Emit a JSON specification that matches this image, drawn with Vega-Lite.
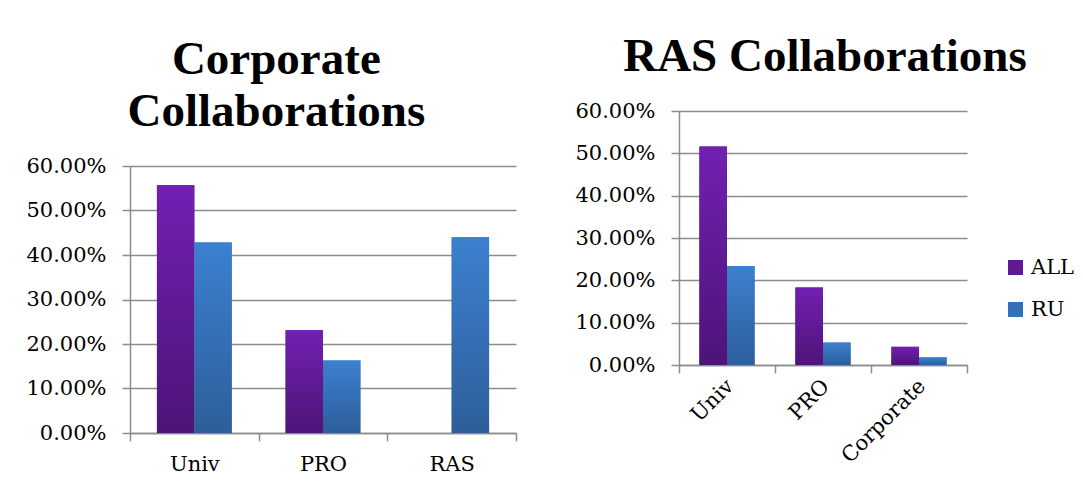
{
  "$schema": "https://vega.github.io/schema/vega-lite/v6.json",
  "padding": {"left": 25, "top": 33, "right": 0, "bottom": 0},
  "background": "white",
  "config": {
    "font": "DejaVu Serif",
    "view": {"stroke": null},
    "axis": {
      "labelFont": "DejaVu Serif", "labelFontSize": 21, "labelColor": "#000000",
      "domainColor": "#8c8c8c", "tickColor": "#8c8c8c", "gridColor": "#8c8c8c",
      "domainWidth": 1.5, "tickWidth": 1.5, "gridWidth": 1.5, "tickSize": 8, "title": null
    },
    "title": {"font": "Liberation Serif", "fontSize": 47, "fontWeight": "bold", "color": "#000000", "anchor": "middle", "frame": "bounds", "lineHeight": 52},
    "legend": {"labelFont": "DejaVu Serif", "labelFontSize": 21, "labelColor": "#000000", "symbolType": "square", "symbolSize": 225, "symbolStrokeWidth": 0, "symbolOpacity": 1, "rowPadding": 20, "labelOffset": 5, "title": null}
  },
  "datasets": {
    "corporate": [
      {"partner": "Univ", "group": "ALL", "share": 0.557},
      {"partner": "Univ", "group": "RU", "share": 0.428},
      {"partner": "PRO", "group": "ALL", "share": 0.231},
      {"partner": "PRO", "group": "RU", "share": 0.163},
      {"partner": "RAS", "group": "ALL", "share": 0.0},
      {"partner": "RAS", "group": "RU", "share": 0.440}
    ],
    "ras": [
      {"partner": "Univ", "group": "ALL", "share": 0.516},
      {"partner": "Univ", "group": "RU", "share": 0.234},
      {"partner": "PRO", "group": "ALL", "share": 0.183},
      {"partner": "PRO", "group": "RU", "share": 0.053},
      {"partner": "Corporate", "group": "ALL", "share": 0.043},
      {"partner": "Corporate", "group": "RU", "share": 0.018}
    ]
  },
  "spacing": 57,
  "resolve": {"scale": {"color": "independent", "xOffset": "independent"}, "legend": {"color": "independent"}},
  "hconcat": [
    {
      "width": 386,
      "height": 267,
      "title": {"text": ["Corporate", "Collaborations"], "offset": 19, "dx": 5},
      "data": {"name": "corporate"},
      "encoding": {
        "x": {"field": "partner", "type": "nominal", "sort": ["Univ", "PRO", "RAS"],
          "scale": {"paddingInner": 0, "paddingOuter": 0},
          "axis": {"labelAngle": 0, "tickBand": "extent", "labelPadding": 12, "grid": false}},
        "xOffset": {"field": "group", "type": "nominal", "sort": ["ALL", "RU"], "scale": {"domain": ["ALL", "RU"], "paddingOuter": 0.72, "paddingInner": 0}},
        "y": {"field": "share", "type": "quantitative", "scale": {"domain": [0, 0.6]},
          "axis": {"format": ".2%", "values": [0, 0.1, 0.2, 0.3, 0.4, 0.5, 0.6], "grid": true, "labelPadding": 16}}
      },
      "layer": [
        {
          "mark": {"type": "bar"},
          "encoding": {
            "color": {"field": "group", "type": "nominal",
              "scale": {"domain": ["ALL", "RU"], "range": ["#5F1A93", "#3470B8"]}, "legend": null}
          }
        },
        {
          "transform": [{"filter": "datum.group === 'ALL'"}],
          "mark": {"type": "bar", "color": {"gradient": "linear", "x1": 0, "y1": 0, "x2": 0, "y2": 1, "stops": [{"offset": 0, "color": "#7120B2"}, {"offset": 1, "color": "#4E1477"}]}}
        },
        {
          "transform": [{"filter": "datum.group === 'RU'"}],
          "mark": {"type": "bar", "color": {"gradient": "linear", "x1": 0, "y1": 0, "x2": 0, "y2": 1, "stops": [{"offset": 0, "color": "#3C80D0"}, {"offset": 1, "color": "#2D5E9A"}]}}
        }
      ]
    },
    {
      "width": 288,
      "height": 199,
      "title": {"text": "RAS Collaborations", "offset": 19},
      "data": {"name": "ras"},
      "encoding": {
        "x": {"field": "partner", "type": "nominal", "sort": ["Univ", "PRO", "Corporate"],
          "scale": {"paddingInner": 0, "paddingOuter": 0},
          "axis": {"labelAngle": -45, "tickBand": "extent", "labelPadding": 2, "labelOffset": -5, "grid": false}},
        "xOffset": {"field": "group", "type": "nominal", "sort": ["ALL", "RU"], "scale": {"domain": ["ALL", "RU"], "paddingOuter": 0.74, "paddingInner": 0}},
        "y": {"field": "share", "type": "quantitative", "scale": {"domain": [0, 0.6], "range": [199, -55]},
          "axis": {"format": ".2%", "values": [0, 0.1, 0.2, 0.3, 0.4, 0.5, 0.6], "grid": true, "labelPadding": 16}}
      },
      "layer": [
        {
          "mark": {"type": "bar"},
          "encoding": {
            "color": {"field": "group", "type": "nominal",
              "scale": {"domain": ["ALL", "RU"], "range": ["#5F1A93", "#3470B8"]},
              "legend": {"orient": "none", "legendX": 326, "legendY": 91}}
          }
        },
        {
          "transform": [{"filter": "datum.group === 'ALL'"}],
          "mark": {"type": "bar", "color": {"gradient": "linear", "x1": 0, "y1": 0, "x2": 0, "y2": 1, "stops": [{"offset": 0, "color": "#7120B2"}, {"offset": 1, "color": "#4E1477"}]}}
        },
        {
          "transform": [{"filter": "datum.group === 'RU'"}],
          "mark": {"type": "bar", "color": {"gradient": "linear", "x1": 0, "y1": 0, "x2": 0, "y2": 1, "stops": [{"offset": 0, "color": "#3C80D0"}, {"offset": 1, "color": "#2D5E9A"}]}}
        }
      ]
    }
  ]
}
